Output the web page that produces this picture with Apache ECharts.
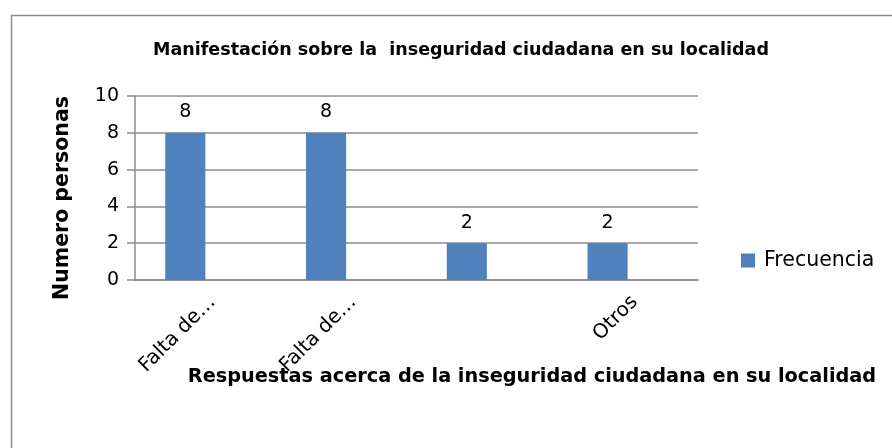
<!DOCTYPE html>
<html>
<head>
<meta charset="utf-8">
<script src="https://cdn.jsdelivr.net/npm/echarts@6/dist/echarts.min.js"></script>
<style>html,body{margin:0;padding:0;background:#fff}#c{width:892px;height:448px}</style>
</head>
<body>
<div id="c"></div>
<script>
var categories = ['Falta de…', 'Falta de…', '', 'Otros'];
var frecuencia = [8, 8, 2, 2];
var serie2 = [null, null, null, null];
var yTicks = [0, 2, 4, 6, 8, 10];

var FONT = "'DejaVu Sans', sans-serif";
var chart = echarts.init(document.getElementById('c'), null, {renderer: 'canvas'});
chart.setOption({
  animation: false,
  backgroundColor: '#ffffff',
  graphic: [{
    type: 'rect', left: 9, top: 13,
    shape: {width: 900, height: 460},
    style: {fill: 'none', stroke: '#8c8c8c', lineWidth: 1.5},
    silent: true
  }],
  title: {
    text: 'Manifestación sobre la  inseguridad ciudadana en su localidad',
    left: 456, top: 36, textAlign: 'center',
    textStyle: {fontFamily: FONT, fontWeight: 'bold', fontSize: 17.5, color: '#000'}
  },
  legend: {
    data: ['Frecuencia'],
    left: 741, top: 250, padding: 0,
    itemWidth: 14, itemHeight: 14, itemGap: 8,
    icon: 'rect',
    textStyle: {fontFamily: FONT, fontSize: 20.5, color: '#000', padding: [0,0,0,4]}
  },
  grid: {left: 135, right: 194, top: 96, bottom: 168, containLabel: false},
  xAxis: {
    type: 'category',
    data: categories,
    name: 'Respuestas acerca de la inseguridad ciudadana en su localidad',
    nameLocation: 'middle',
    nameGap: 87,
    nameMoveOverlap: false,
    nameTextStyle: {fontFamily: FONT, fontWeight: 'bold', fontSize: 19.3, color: '#000', padding: [0,0,0,231]},
    axisLine: {lineStyle: {color: '#8c8c8c', width: 1.5}},
    axisTick: {show: false},
    axisLabel: {interval: 0, rotate: 45, margin: 12, verticalAlign: 'top', fontFamily: FONT, fontSize: 20, color: '#000'}
  },
  yAxis: {
    type: 'value',
    min: 0, max: 10, interval: 2,
    name: 'Numero personas',
    nameLocation: 'middle',
    nameGap: 62,
    nameMoveOverlap: false,
    nameRotate: 90,
    nameTextStyle: {fontFamily: FONT, fontWeight: 'bold', fontSize: 20.5, color: '#000', padding: [0,20,0,0]},
    axisLine: {show: true, lineStyle: {color: '#8c8c8c', width: 1.5}},
    axisTick: {show: true, inside: false, length: 8, lineStyle: {color: '#8c8c8c', width: 1.5}},
    splitLine: {show: true, lineStyle: {color: '#8c8c8c', width: 1.5}},
    axisLabel: {margin: 16, fontFamily: FONT, fontSize: 19, color: '#000',
      formatter: function (v) { return yTicks.indexOf(v) >= 0 ? String(v) : ''; }}
  },
  series: [{
    name: 'Frecuencia',
    type: 'bar',
    data: frecuencia,
    barGap: '0%',
    barCategoryGap: '43%',
    itemStyle: {color: '#4f81bd'},
    label: {show: true, position: 'top', distance: 11, fontFamily: FONT, fontSize: 19, color: '#000'}
  }, {
    name: 'Serie 2',
    type: 'bar',
    data: serie2,
    itemStyle: {color: '#c0504d'}
  }]
});
</script>
</body>
</html>
